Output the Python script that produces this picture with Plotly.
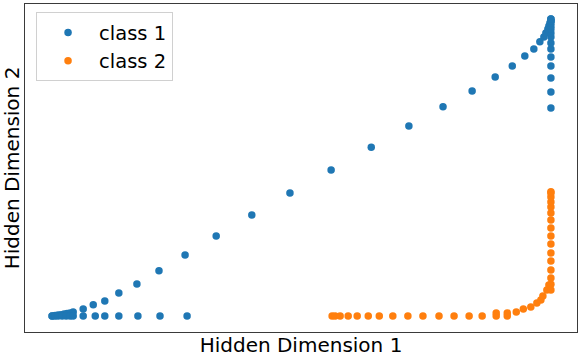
import plotly.graph_objects as go

# Class 1 (blue) points: diagonal branch, bottom branch, right vertical branch
c1_x = [0.004, 0.010, 0.016, 0.022, 0.028, 0.034, 0.040, 0.046,
        0.066, 0.086, 0.109, 0.137, 0.173, 0.217, 0.269, 0.331, 0.402, 0.478,
        0.560, 0.640, 0.715, 0.783, 0.841, 0.887, 0.921, 0.946, 0.964, 0.976,
        0.984, 0.988, 0.992, 0.994, 0.996, 0.998, 0.998,
        0.004, 0.010, 0.016, 0.024, 0.032, 0.040, 0.046, 0.066, 0.090, 0.109,
        0.137, 0.175, 0.219, 0.273,
        0.998, 0.998, 0.998, 0.998, 0.998, 0.998, 0.998, 0.998, 0.998, 0.998,
        0.998, 0.998, 0.998, 0.998]
c1_y = [0.004, 0.005, 0.007, 0.008, 0.010, 0.012, 0.014, 0.017,
        0.027, 0.041, 0.054, 0.081, 0.111, 0.155, 0.208, 0.272, 0.342, 0.416,
        0.493, 0.570, 0.641, 0.705, 0.758, 0.805, 0.842, 0.876, 0.899, 0.923,
        0.939, 0.953, 0.966, 0.976, 0.986, 0.993, 1.000,
        0.004, 0.004, 0.004, 0.004, 0.004, 0.004, 0.004, 0.004, 0.004, 0.004,
        0.004, 0.004, 0.004, 0.004,
        0.701, 0.755, 0.802, 0.842, 0.872, 0.899, 0.919, 0.939, 0.953, 0.966,
        0.976, 0.986, 0.993, 1.000]

# Class 2 (orange) points: bottom branch curving into right vertical branch
c2_x = [0.562, 0.568, 0.578, 0.594, 0.612, 0.634, 0.656, 0.683, 0.713, 0.743,
        0.775, 0.805, 0.835, 0.861, 0.889, 0.911,
        0.889, 0.911, 0.929, 0.943, 0.958, 0.970, 0.978, 0.982, 0.990, 0.994,
        0.998, 0.998, 0.998, 0.998, 0.998, 0.998, 0.998, 0.998, 0.998, 0.998,
        0.998, 0.998, 0.998, 0.998, 0.998, 0.998]
c2_y = [0.004, 0.004, 0.004, 0.004, 0.004, 0.004, 0.004, 0.004, 0.004, 0.004,
        0.004, 0.004, 0.004, 0.004, 0.004, 0.004,
        0.014, 0.014, 0.017, 0.027, 0.034, 0.047, 0.057, 0.071, 0.091, 0.108,
        0.091, 0.110, 0.131, 0.158, 0.188, 0.215, 0.245, 0.272, 0.299, 0.326,
        0.349, 0.369, 0.386, 0.403, 0.416, 0.420]

series_names = ["class 1", "class 2"]
colors = ["#1f77b4", "#ff7f0e"]

fig = go.Figure()
for name, xs, ys, col in zip(series_names, [c1_x, c2_x], [c1_y, c2_y], colors):
    fig.add_trace(go.Scatter(x=xs, y=ys, mode="markers", name=name,
                             marker=dict(color=col, size=7.5, line=dict(width=0))))

font = "DejaVu Sans, Verdana, sans-serif"
axis_common = dict(showgrid=False, zeroline=False, showticklabels=False, ticks="",
                   showline=True, linecolor="#3a3a3a", linewidth=1, mirror=True,
                   range=[-0.05, 1.05])
fig.update_layout(
    width=581, height=364,
    margin=dict(l=25, r=4, t=4, b=32),
    paper_bgcolor="white", plot_bgcolor="white",
    font=dict(family=font, color="black"),
    xaxis=dict(title=dict(text="Hidden Dimension 1", font=dict(size=20), standoff=5),
               **axis_common),
    yaxis=dict(title=dict(text="Hidden Dimension 2", font=dict(size=20), standoff=3),
               **axis_common),
    legend=dict(x=0.02, y=0.975, xanchor="left", yanchor="top",
                bgcolor="rgba(255,255,255,0.8)", bordercolor="#d0d0d0", borderwidth=1,
                font=dict(size=19.5, family=font), tracegroupgap=0,
                itemwidth=52),
    showlegend=True,
)
fig.write_html("out.html")
